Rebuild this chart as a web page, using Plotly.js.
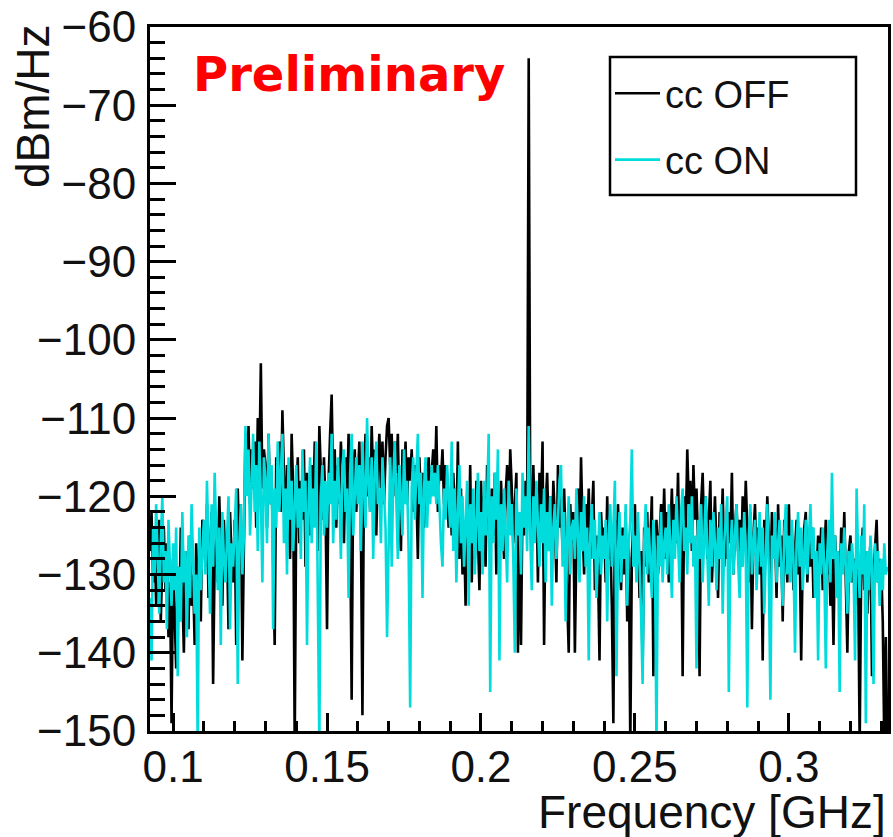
<!DOCTYPE html>
<html>
<head>
<meta charset="utf-8">
<script src="https://cdn.plot.ly/plotly-3.0.1.min.js"></script>
<style>html,body{margin:0;padding:0;background:#fff;}#chart{width:893px;height:837px;}</style>
</head>
<body>
<div id="chart"></div>
<script>
// Frequency grid of the spectrum (GHz): first sample and spacing
const F_START = 0.0925;
const F_STEP = 0.0005;

const SERIES_NAMES = ['cc OFF', 'cc ON'];
const X_TICK_VALS = [0.1, 0.15, 0.2, 0.25, 0.3];
const X_TICK_TEXT = ['0.1', '0.15', '0.2', '0.25', '0.3'];
const Y_TICK_VALS = [-150, -140, -130, -120, -110, -100, -90, -80, -70, -60];

// cc OFF spectrum (dBm/Hz)
const ccOff = [
  -127,-122,-131,-125,-134,-129,-123,-136,-128,-124,-132,-126,-138,-131,-149,
  -128,-135,-142,-129,-136,-124,-133,-140,-127,-131,-137,-125,-134,-130,-139,-126,-132,-128,-136,-123,
  -124,-129,-121,-133,-127,-122,-144,-128,-125,-131,-120,-127,-134,-123,-129,-126,-137,-122,-128,-131,
  -123,-139,-119,-127,-121,-141,-124,-112,-118,-111,-121,-114,-119,-113,-124,-110,-117,-103,-119,-114,
  -116,-124,-112,-121,-117,-126,-139,-115,-120,-113,-122,-109,-118,-125,-116,-121,-128,-112,-119,-152,
  -121,-115,-126,-118,-123,-114,-129,-117,-120,-125,-116,-122,-113,-119,-127,-111,-118,-123,-115,-121,
  -137,-118,-112,-107,-119,-114,-124,-116,-121,-113,-118,-126,-115,-120,-112,-123,-146,-117,-114,-122,
  -118,-113,-124,-148,-117,-112,-120,-115,-122,-111,-118,-114,-125,-116,-112,-119,-113,-121,-115,-111,
  -110,-116,-112,-120,-113,-117,-112,-123,-127,-114,-119,-113,-121,-115,-118,-114,-122,-116,-119,-128,
  -115,-121,-117,-124,-116,-119,-115,-120,-117,-114,-119,-111,-122,-116,-118,-114,-121,-116,-119,-124,
  -120,-125,-117,-122,-126,-113,-128,-119,-130,-124,-134,-121,-127,-116,-131,-123,-128,-118,-125,-132,
  -118,-124,-120,-129,-116,-122,-127,-119,-125,-117,-130,-121,-126,-118,-123,-128,-120,-116,-124,-114,
  -119,-126,-121,-117,-140,-123,-139,-120,-125,-118,-122,-64,-121,-127,-116,-124,-119,-131,-117,-122,
  -113,-139,-121,-117,-125,-120,-128,-118,-123,-131,-116,-124,-120,-127,-119,-125,-133,-140,-121,-126,
  -122,-140,-126,-119,-128,-115,-124,-130,-121,-126,-119,-128,-123,-118,-132,-125,-129,-141,-122,-127,
  -124,-131,-120,-128,-125,-134,-149,-123,-129,-121,-127,-132,-124,-130,-122,-136,-126,-152,-128,-123,
  -121,-130,-125,-133,-127,-142,-124,-129,-122,-131,-126,-120,-143,-128,-123,-130,-125,-121,-127,-119,
  -128,-122,-131,-124,-119,-127,-121,-126,-117,-129,-122,-143,-120,-125,-114,-121,-118,-127,-116,-123,
  -119,-126,-143,-121,-117,-125,-120,-128,-122,-118,-131,-124,-120,-127,-133,-122,-126,-119,-129,-124,
  -128,-122,-126,-117,-130,-124,-121,-127,-123,-129,-120,-126,-118,-124,-131,-122,-137,-125,-121,-128,
  -124,-130,-126,-141,-123,-128,-120,-126,-131,-122,-127,-124,-133,-121,-129,-125,-136,-123,-128,-131,
  -121,-129,-125,-132,-127,-123,-130,-126,-141,-128,-124,-122,-131,-126,-129,-124,-133,-127,-130,-125,
  -129,-124,-132,-127,-123,-130,-126,-134,-128,-139,-125,-130,-127,-133,-124,-129,-122,-131,-140,-127,
  -125,-131,-128,-134,-126,-130,-152,-129,-124,-132,-127,-135,-129,-126,-143,-130,-127,-123,-131,-128,
  -129,-136,-152,-138,-152
];

// cc ON spectrum (dBm/Hz)
const ccOn = [
  -133,-141,-124,-130,-121,-128,-135,-126,-120,-131,-127,-137,-123,-129,-134,
  -126,-132,-124,-143,-129,-136,-122,-131,-127,-138,-125,-133,-121,-128,-135,-130,-152,-124,-132,-127,
  -123,-130,-118,-127,-135,-121,-129,-117,-126,-132,-124,-139,-122,-128,-131,-125,-120,-137,-126,-129,
  -124,-119,-144,-126,-121,-130,-125,-111,-120,-114,-125,-117,-112,-122,-116,-127,-113,-120,-131,-115,
  -118,-126,-112,-121,-116,-137,-119,-124,-113,-122,-117,-112,-126,-119,-130,-115,-123,-118,-127,-121,
  -116,-124,-119,-128,-114,-122,-118,-139,-121,-115,-126,-119,-124,-113,-129,-152,-120,-116,-125,-118,
  -124,-117,-121,-112,-126,-118,-123,-115,-120,-128,-116,-114,-122,-119,-133,-117,-112,-125,-120,-115,
  -121,-116,-127,-113,-119,-124,-110,-118,-122,-115,-128,-117,-113,-121,-119,-126,-115,-120,-124,-138,
  -124,-115,-129,-118,-113,-122,-128,-116,-120,-125,-114,-121,-118,-127,-147,-119,-115,-123,-117,-112,
  -121,-117,-133,-119,-115,-124,-118,-121,-116,-120,-117,-121,-116,-122,-126,-129,-119,-123,-116,-120,
  -124,-113,-127,-119,-131,-122,-116,-126,-120,-129,-123,-118,-134,-121,-126,-119,-130,-124,-117,-127,
  -122,-130,-118,-125,-121,-112,-145,-120,-126,-117,-123,-114,-141,-121,-127,-119,-124,-131,-118,-125,
  -121,-128,-140,-119,-125,-122,-130,-117,-124,-120,-127,-111,-125,-132,-120,-126,-118,-123,-129,-121,
  -126,-119,-131,-122,-127,-120,-134,-124,-121,-128,-123,-118,-116,-129,-122,-136,-125,-120,-130,-124,
  -123,-128,-119,-126,-131,-122,-127,-120,-129,-124,-141,-125,-121,-128,-123,-133,-126,-122,-130,-125,
  -128,-123,-136,-125,-121,-129,-124,-118,-143,-127,-122,-131,-125,-128,-121,-134,-126,-123,-114,-129,
  -125,-131,-122,-128,-135,-144,-126,-121,-130,-124,-128,-133,-123,-127,-152,-125,-129,-122,-131,-126,
  -124,-130,-121,-127,-133,-123,-128,-120,-126,-131,-122,-119,-127,-124,-130,-121,-126,-120,-129,-125,
  -142,-123,-128,-121,-131,-125,-120,-127,-134,-123,-129,-122,-126,-132,-124,-128,-121,-135,-126,-123,
  -120,-145,-127,-123,-130,-125,-121,-128,-133,-124,-129,-122,-127,-147,-125,-121,-130,-126,-123,-132,
  -126,-122,-129,-124,-135,-127,-121,-130,-146,-125,-128,-122,-131,-126,-123,-129,-134,-125,-121,-130,
  -125,-131,-123,-128,-140,-126,-122,-129,-124,-132,-127,-123,-130,-126,-121,-128,-124,-133,-127,-141,
  -126,-130,-124,-129,-142,-127,-123,-131,-117,-128,-125,-133,-127,-145,-126,-130,-124,-129,-135,-127,
  -131,-126,-129,-141,-119,-128,-133,-125,-130,-121,-149,-127,-132,-125,-129,-144,-126,-131,-127,-134,
  -128,-132,-126,-130,-129
];

const FONT = 'Liberation Sans, Arial, Helvetica, sans-serif';

const traces = [
  {type: 'scatter', mode: 'lines', name: SERIES_NAMES[0], x0: F_START, dx: F_STEP, y: ccOff,
   line: {color: '#000000', width: 2.6}, legendgroup: 'a'},
  {type: 'scatter', mode: 'lines', name: SERIES_NAMES[1], x0: F_START, dx: F_STEP, y: ccOn,
   line: {color: '#00dcdc', width: 2.6}, legendgroup: 'b'}
];

const L = 150, R = 888, T = 27, B = 731, W = 893, H = 837;
const pw = R - L, ph = B - T;
const px = v => (v - L) / pw;
const py = v => (B - v) / ph;

const layout = {
  width: W, height: H,
  margin: {l: L, r: W - R, t: T, b: H - B, pad: 0},
  paper_bgcolor: '#ffffff', plot_bgcolor: '#ffffff',
  font: {family: FONT, color: '#000000'},
  showlegend: true,
  legend: {
    x: px(610), y: py(62), xanchor: 'left', yanchor: 'top',
    bgcolor: 'rgba(0,0,0,0)', borderwidth: 0,
    font: {family: FONT, size: 38, color: '#111'},
    tracegroupgap: 14, traceorder: 'grouped', itemwidth: 45
  },
  shapes: [
    {type: 'rect', xref: 'paper', yref: 'paper', x0: px(610), x1: px(856), y0: py(195), y1: py(57),
     line: {color: '#000', width: 2.5}, fillcolor: 'rgba(0,0,0,0)', layer: 'above'}
  ],
  xaxis: {
    range: [F_START, 0.3322],
    tickmode: 'array', tickvals: X_TICK_VALS, ticktext: X_TICK_TEXT,
    ticks: 'inside', ticklen: 18, tickwidth: 3, tickcolor: '#000',
    minor: {dtick: 0.01, tick0: 0, ticks: 'inside', ticklen: 10, tickwidth: 3, tickcolor: '#000', showgrid: false},
    showgrid: false, zeroline: false,
    showline: true, linecolor: '#000', linewidth: 3, mirror: true,
    tickfont: {family: FONT, size: 44, color: '#111'},
    ticklabelstandoff: -5
  },
  yaxis: {
    range: [-150, -60],
    tickmode: 'array', tickvals: Y_TICK_VALS,
    ticks: 'inside', ticklen: 26, tickwidth: 3, tickcolor: '#000',
    minor: {dtick: 2, tick0: 0, ticks: 'inside', ticklen: 15, tickwidth: 3, tickcolor: '#000', showgrid: false},
    showgrid: false, zeroline: false,
    showline: true, linecolor: '#000', linewidth: 3, mirror: true,
    tickfont: {family: FONT, size: 44, color: '#111'},
    ticklabelstandoff: 2
  },
  annotations: [
    {text: 'Frequency [GHz]', xref: 'paper', yref: 'paper', x: 1, y: py(812),
     xanchor: 'right', yanchor: 'middle', showarrow: false,
     font: {family: FONT, size: 46, color: '#111'}},
    {text: 'dBm/Hz', xref: 'paper', yref: 'paper', x: px(33), y: py(106),
     xanchor: 'center', yanchor: 'middle', textangle: -90, showarrow: false,
     font: {family: FONT, size: 46, color: '#111'}},
    {text: '<b>Preliminary</b>', xref: 'paper', yref: 'paper', x: px(191), y: py(74),
     xanchor: 'left', yanchor: 'middle', showarrow: false,
     font: {family: 'DejaVu Sans, sans-serif', size: 48, color: '#ff0000'}}
  ]
};

Plotly.newPlot('chart', traces, layout, {staticPlot: true, displayModeBar: false});
</script>
</body>
</html>
